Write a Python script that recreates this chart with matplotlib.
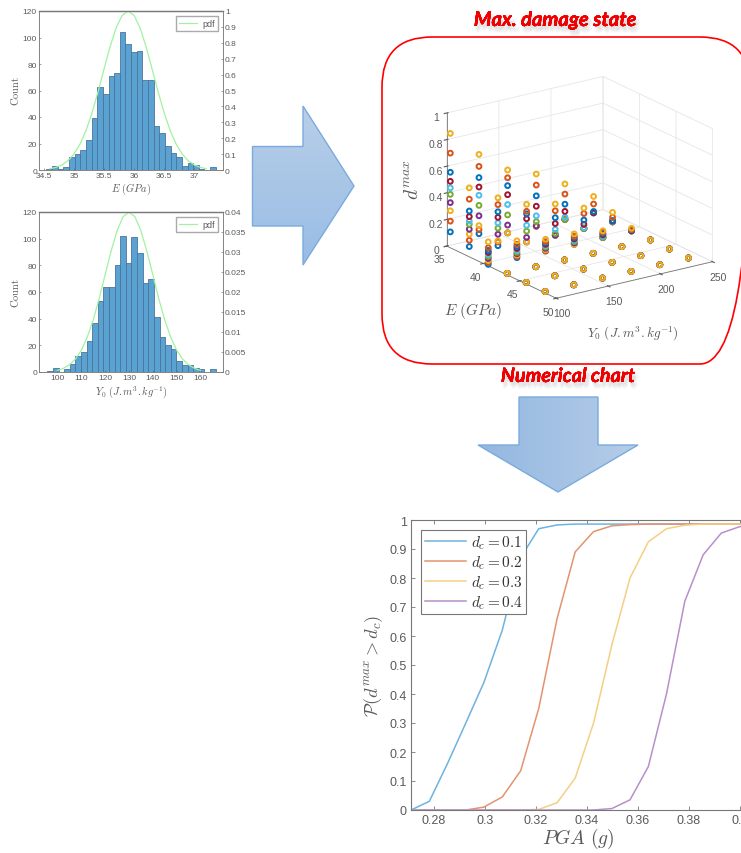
import numpy as np
import matplotlib
matplotlib.use("Agg")
import matplotlib.pyplot as plt
import matplotlib.patheffects as pe
from matplotlib.patches import FancyBboxPatch, Polygon

W, H = 741, 854
GREY = "#5a5a5a"

plt.rcParams["font.family"] = ["Liberation Sans", "DejaVu Sans"]
plt.rcParams["mathtext.fontset"] = "cm"

# histogram of E
e_bin_start = 34.54
e_bin_width = 0.094
e_counts = [1, 3, 1, 2, 10, 12, 15, 23, 39, 63, 57, 71, 73, 104, 95, 89, 90, 68, 68, 33,
            28, 18, 13, 10, 3, 5, 4, 1, 0, 2]
e_pdf_x = [34.6, 34.7, 34.8, 34.9, 35.0, 35.1, 35.2, 35.3, 35.4, 35.5, 35.6, 35.7, 35.8, 35.9,
           36.0, 36.1, 36.2, 36.3, 36.4, 36.5, 36.6, 36.7, 36.8, 36.9, 37.0, 37.1, 37.2]
e_pdf_y = [0.008, 0.017, 0.032, 0.059, 0.101, 0.163, 0.249, 0.36, 0.492, 0.635, 0.775, 0.893, 0.972, 1.0,
           0.972, 0.893, 0.775, 0.635, 0.492, 0.36, 0.249, 0.163, 0.101, 0.059, 0.032, 0.017, 0.008]
e_ticks = [34.5, 35, 35.5, 36, 36.5, 37]
e_tick_labels = ["34.5", "35", "35.5", "36", "36.5", "37"]

# histogram of Y0
y_bin_start = 95.8
y_bin_width = 2.35
y_counts = [1, 3, 0, 2, 6, 12, 15, 23, 37, 53, 64, 64, 80, 102, 82, 101, 89, 67, 70, 41,
            26, 20, 17, 8, 5, 5, 3, 2, 0, 2]
y_pdf_x = [100, 102.5, 105, 107.5, 110, 112.5, 115, 117.5, 120, 122.5, 125, 127.5, 130,
           132.5, 135, 137.5, 140, 142.5, 145, 147.5, 150, 152.5, 155, 157.5, 160]
y_pdf_y = [0.0004, 0.0009, 0.0018, 0.0032, 0.0054, 0.0087, 0.013, 0.0183, 0.0243, 0.0302, 0.0353, 0.0388, 0.04,
           0.0388, 0.0353, 0.0302, 0.0243, 0.0183, 0.013, 0.0087, 0.0054, 0.0032, 0.0018, 0.0009, 0.0004]
y_ticks = [100, 110, 120, 130, 140, 150, 160]

# 3d chart, one row per E, one list per Y0 column, ten values bottom to top
grid_e = [35.2, 37.8, 40.4, 43.0, 45.6, 48.2]
grid_y0 = [102, 129.5, 157, 184.5, 212, 239.5]
dmax_e1 = [[0.108, 0.189, 0.267, 0.328, 0.39, 0.439, 0.488, 0.556, 0.70, 0.848],
           [0.044, 0.074, 0.105, 0.179, 0.257, 0.333, 0.395, 0.466, 0.55, 0.64],
           [0, 0, 0, 0.059, 0.135, 0.213, 0.287, 0.355, 0.414, 0.473],
           [0, 0, 0, 0.002, 0.034, 0.078, 0.15, 0.228, 0.309, 0.392],
           [0, 0, 0, 0, 0, 0.017, 0.061, 0.115, 0.191, 0.267],
           [0, 0, 0, 0, 0, 0, 0, 0.01, 0.066, 0.123]]
dmax_e2 = [[0.066, 0.113, 0.159, 0.196, 0.233, 0.257, 0.291, 0.333, 0.422, 0.507],
           [0.022, 0.05, 0.059, 0.108, 0.154, 0.194, 0.235, 0.277, 0.331, 0.382],
           [0, 0, 0, 0.034, 0.081, 0.125, 0.174, 0.211, 0.23, 0.282],
           [0, 0, 0, 0, 0.015, 0.044, 0.088, 0.132, 0.184, 0.235],
           [0, 0, 0, 0, 0, 0.007, 0.032, 0.064, 0.113, 0.154],
           [0, 0, 0, 0, 0, 0, 0.005, 0.01, 0.034, 0.071]]
dmax_e3 = [[0, 0.015, 0.03, 0.045, 0.06, 0.075, 0.09, 0.105, 0.125, 0.169],
           [0, 0.01, 0.02, 0.03, 0.04, 0.055, 0.07, 0.085, 0.1, 0.127],
           [0, 0, 0.01, 0.02, 0.03, 0.04, 0.05, 0.06, 0.07, 0.088],
           [0, 0, 0, 0.01, 0.02, 0.03, 0.04, 0.05, 0.06, 0.078],
           [0, 0, 0, 0, 0, 0.01, 0.02, 0.03, 0.04, 0.051],
           [0, 0, 0, 0, 0, 0, 0, 0.005, 0.01, 0.02]]
dmax_flat = [[0] * 10] * 6
dmax_rows = [dmax_e1, dmax_e2, dmax_e3, dmax_flat, dmax_flat, dmax_flat]
level_colors = ["#0072bd", "#d95319", "#edb120", "#7e2f8e", "#77ac30",
                "#4dbeee", "#a2142f", "#0072bd", "#d95319", "#edb120"]

# fragility curves
pga = [0.271, 0.2782, 0.2853, 0.2925, 0.2996, 0.3068, 0.314, 0.3211, 0.3283, 0.3354, 0.3426,
       0.3498, 0.3569, 0.3641, 0.3712, 0.3784, 0.3856, 0.3927, 0.3999, 0.407]
p_01 = [0, 0.03, 0.16, 0.30, 0.44, 0.62, 0.87, 0.97, 0.983, 0.986, 0.986,
        0.986, 0.986, 0.986, 0.986, 0.986, 0.986, 0.986, 0.986, 0.986]
p_02 = [0, 0, 0, 0, 0.01, 0.045, 0.135, 0.35, 0.66, 0.89, 0.96,
        0.98, 0.984, 0.986, 0.986, 0.986, 0.986, 0.986, 0.986, 0.986]
p_03 = [0, 0, 0, 0, 0, 0, 0, 0.002, 0.025, 0.11, 0.30,
        0.57, 0.80, 0.925, 0.97, 0.982, 0.986, 0.986, 0.986, 0.986]
p_04 = [0, 0, 0, 0, 0, 0, 0, 0, 0, 0, 0,
        0.005, 0.035, 0.15, 0.40, 0.72, 0.88, 0.955, 0.977, 0.985]
curve_labels = ["$d_c = 0.1$", "$d_c = 0.2$", "$d_c = 0.3$", "$d_c = 0.4$"]
curve_colors = ["#6db3de", "#e3936f", "#f4cf85", "#b88fc9"]
pga_ticks = [0.28, 0.3, 0.32, 0.34, 0.36, 0.38, 0.4]
pga_tick_labels = ["0.28", "0.3", "0.32", "0.34", "0.36", "0.38", "0.4"]


def px_axes(left, top, right, bottom, **kw):
    return fig.add_axes([left / W, 1 - bottom / H, (right - left) / W, (bottom - top) / H], **kw)


def plot_hist(rect, bin_start, bin_width, counts, pdf_x, pdf_y, pdf_top, pdf_step, xlim, ticks, tick_labels, xlabel):
    ax = px_axes(*rect, zorder=2)
    edges = bin_start + bin_width * np.arange(len(counts))
    ax.bar(edges, counts, width=bin_width, align="edge", color="#5aa2d2", edgecolor="#4a7598", linewidth=0.6)
    ax.set_xlim(*xlim)
    ax.set_ylim(0, 120)
    ax.set_xticks(ticks)
    ax.set_xticklabels(tick_labels)
    ax.set_yticks(range(0, 121, 20))
    ax.tick_params(labelsize=6, colors=GREY, direction="in", length=1.5, width=0.4, pad=1.5)
    ax.set_xlabel(xlabel, fontsize=7.5, color=GREY, labelpad=1.5)
    ax.set_ylabel(r"$\mathrm{Count}$", fontsize=7.5, color=GREY, labelpad=1)
    twin = ax.twinx()
    line, = twin.plot(pdf_x, pdf_y, color="#a0f2a0", linewidth=0.9, label="pdf")
    twin.set_ylim(0, pdf_top)
    twin.set_yticks(np.arange(0, pdf_top + pdf_step / 2, pdf_step))
    twin.set_yticklabels([f"{v:.3f}".rstrip("0").rstrip(".") for v in np.arange(0, pdf_top + pdf_step / 2, pdf_step)])
    twin.tick_params(labelsize=6, colors=GREY, direction="in", length=1.5, width=0.4, pad=1.5)
    for a in (ax, twin):
        for name, spine in a.spines.items():
            spine.set_color("#7a7a7a")
            spine.set_linewidth(0.5)
        a.spines["top"].set_linewidth(0.9)
    twin.legend(handles=[line], loc="upper right", fancybox=False, edgecolor="#aaaaaa",
                framealpha=1, borderpad=0.35, handlelength=2, borderaxespad=0.55,
                labelcolor=GREY, handletextpad=0.6, prop={"family": "Liberation Sans", "size": 6.5})


fig = plt.figure(figsize=(W / 100, H / 100), dpi=100)

# shapes and captions in pixel coordinates
bg = fig.add_axes([0, 0, 1, 1], zorder=0)
bg.set_xlim(0, W)
bg.set_ylim(H, 0)
bg.axis("off")


def gradient_arrow(points, horizontal):
    if horizontal:
        grad = np.linspace(0, 1, 64).reshape(1, -1)
        c0, c1 = np.array([0.58, 0.72, 0.88]), np.array([0.71, 0.80, 0.91])
    else:
        grad = np.linspace(0, 1, 64).reshape(-1, 1)
        c0, c1 = np.array([0.72, 0.81, 0.91]), np.array([0.60, 0.74, 0.90])
    rgb = c0 + grad[..., None] * (c1 - c0)
    xs = [p[0] for p in points]
    ys = [p[1] for p in points]
    im = bg.imshow(rgb, extent=[min(xs), max(xs), max(ys), min(ys)], aspect="auto", zorder=1)
    poly = Polygon(points, closed=True, facecolor="none", edgecolor="#7aabdc", linewidth=1, zorder=2)
    bg.add_patch(poly)
    im.set_clip_path(poly)


gradient_arrow([(252.5, 147.5), (303, 147.5), (303, 107), (354, 187), (303, 266), (303, 227), (252.5, 227)], False)
gradient_arrow([(519, 398), (598, 398), (598, 446), (638, 446), (558, 493), (478, 446), (519, 446)], True)
bg.set_xlim(0, W)
bg.set_ylim(H, 0)

bg.add_patch(FancyBboxPatch((432, 88), 268, 227, boxstyle="round,pad=50,rounding_size=50", facecolor="none",
                            edgecolor="#ff0000", linewidth=1.2, zorder=3))

# soft shadow made of a few faint offset copies
shadow = [pe.withSimplePatchShadow(offset=(dx, dy), shadow_rgbFace="#666666", alpha=0.045)
          for dx, dy in [(0.5, -2), (2.5, -2), (0.5, -4), (2.5, -4), (1.5, -3), (1.5, -5), (3.5, -3)]] + [pe.Normal()]
bg.text(555, 21, "Max. damage state", color="#f00000", fontsize=14.5, fontweight="bold", fontstyle="italic",
        family="Lato", ha="center", va="center", path_effects=shadow, zorder=4)
bg.text(568, 377, "Numerical chart", color="#f00000", fontsize=14.2, fontweight="bold", fontstyle="italic",
        family="Lato", ha="center", va="center", path_effects=shadow, zorder=4)
bg.text(473, 311, r"$E\ (GPa)$", color=GREY, fontsize=11, ha="center", va="center", zorder=4)
bg.text(633, 334, r"$Y_0\ (J.m^3.kg^{-1})$", color=GREY, fontsize=9.5, ha="center", va="center", zorder=4)
bg.text(413, 180, r"$d^{max}$", color=GREY, fontsize=14, rotation=90, ha="center", va="center", zorder=4)

plot_hist((39, 12, 223, 171), e_bin_start, e_bin_width, e_counts, e_pdf_x, e_pdf_y, 1, 0.1,
          (34.417, 37.48), e_ticks, e_tick_labels, r"$E\ (GPa)$")
plot_hist((39, 213, 223, 373), y_bin_start, y_bin_width, y_counts, y_pdf_x, y_pdf_y, 0.04, 0.005,
          (92.3, 169.4), y_ticks, [str(t) for t in y_ticks], r"$Y_0\ (J.m^3.kg^{-1})$")

# 3d scatter
ax3 = px_axes(416, 57, 736, 327, projection="3d", proj_type="ortho", zorder=1)
ax3.patch.set_alpha(0)
ax3.view_init(elev=19.5, azim=-35)
ax3.set_box_aspect((1, 1, 0.74), zoom=1.095)
for level in range(10):
    xs, ys, zs = [], [], []
    for i, e in enumerate(grid_e):
        for j, y0 in enumerate(grid_y0):
            xs.append(e)
            ys.append(y0)
            zs.append(dmax_rows[i][j][level])
    ax3.scatter(xs, ys, zs, s=12, facecolors="none", edgecolors=level_colors[level], linewidths=1.4, depthshade=False)
ax3.set_xlim(35, 50)
ax3.set_ylim(100, 250)
ax3.set_zlim(0, 1)
ax3.set_xticks([35, 40, 45, 50])
ax3.set_yticks([100, 150, 200, 250])
ax3.set_zticks([0, 0.2, 0.4, 0.6, 0.8, 1])
ax3.set_zticklabels(["0", "0.2", "0.4", "0.6", "0.8", "1"])
ax3.tick_params(labelsize=7.5, colors=GREY)
ax3.tick_params(axis="x", pad=-3)
ax3.tick_params(axis="y", pad=-2.5)
ax3.tick_params(axis="z", pad=-4)
for axis in (ax3.xaxis, ax3.yaxis, ax3.zaxis):
    axis.set_pane_color((1, 1, 1, 0))
    axis.pane.set_edgecolor("#e4e4e4")
    axis.line.set_color("#777777")
    axis.line.set_linewidth(0.6)
    axis._axinfo["grid"].update(color="#e6e6e6", linewidth=0.6)
ax3.zaxis.set_ticks_position("lower")

# fragility curves
ax = px_axes(411, 521, 745, 811, zorder=2)
for values, label, color in zip([p_01, p_02, p_03, p_04], curve_labels, curve_colors):
    ax.plot(pga, values, color=color, linewidth=1.1, label=label)
ax.set_xlim(0.271, 0.402)
ax.set_ylim(0, 1)
ax.set_xticks(pga_ticks)
ax.set_xticklabels(pga_tick_labels)
ax.set_yticks(np.arange(0, 1.01, 0.1))
ax.set_yticklabels(["0", "0.1", "0.2", "0.3", "0.4", "0.5", "0.6", "0.7", "0.8", "0.9", "1"])
ax.tick_params(labelsize=9, colors=GREY, direction="in", length=3, width=0.5, top=True, pad=3)
for spine in ax.spines.values():
    spine.set_color("#777777")
    spine.set_linewidth(0.8)
ax.set_xlabel(r"$PGA\ (g)$", fontsize=14, color=GREY, labelpad=0)
ax.set_ylabel(r"$\mathcal{P}(d^{max} > d_c)$", fontsize=13.2, color=GREY, labelpad=3)
leg = ax.legend(loc="upper left", bbox_to_anchor=(0.03, 0.967), fontsize=11, fancybox=False, framealpha=1,
                edgecolor="#777777", borderpad=0.25, labelspacing=0.15, handlelength=2.7, borderaxespad=0,
                handletextpad=0.3, labelcolor="#333333")
leg.get_frame().set_linewidth(0.8)

fig.savefig("out.png", dpi=100)
